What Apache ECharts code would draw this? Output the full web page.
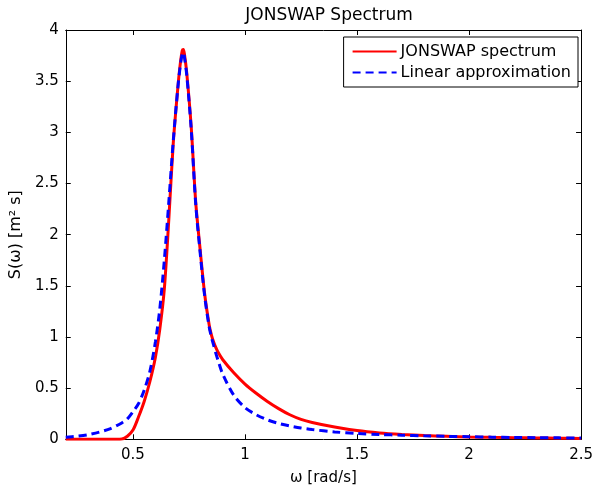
<!DOCTYPE html>
<html>
	<head>
		<meta charset="utf-8">
		<title>JONSWAP Spectrum</title>
		<script src="https://cdn.jsdelivr.net/npm/echarts@6/dist/echarts.min.js"></script>
		<style type="text/css">
			html, body {
				margin: 0;
				padding: 0;
				background: #fff;
			}
			#chart {
				width: 596px;
				height: 491px;
			}
		</style>
	</head>
	<body>
		<div id="chart"></div>
		<script type="text/javascript">
			// 频率 ω [rad/s]
			var omega = [0.2, 0.25, 0.3, 0.35, 0.4, 0.45, 0.475, 0.5, 0.525, 0.55, 0.575, 0.6, 0.62, 0.64,
				0.66, 0.68, 0.7, 0.71, 0.72, 0.725, 0.73, 0.74, 0.76, 0.78,
				0.8, 0.82, 0.84, 0.85, 0.86, 0.87, 0.88, 0.9, 0.95,
				1.0, 1.05, 1.1, 1.15, 1.2, 1.25, 1.3, 1.4, 1.5, 1.6, 1.7, 1.8, 1.9, 2.0, 2.1, 2.2, 2.3, 2.4, 2.5];
			// JONSWAP 谱
			var jonswap = [0, 0, 0, 0, 0, 0.003, 0.03, 0.09, 0.22, 0.37, 0.56, 0.8, 1.08, 1.47,
				2.15, 2.9, 3.43, 3.65, 3.8, 3.81, 3.76, 3.58, 3.05, 2.32,
				1.85, 1.42, 1.12, 1.02, 0.95, 0.895, 0.85, 0.78, 0.65,
				0.54, 0.45, 0.37, 0.3, 0.24, 0.195, 0.165, 0.12, 0.085, 0.062, 0.047, 0.036, 0.029, 0.023, 0.019, 0.016, 0.013, 0.011, 0.009];
			// 线性近似
			var linear = [0.02, 0.03, 0.045, 0.07, 0.105, 0.16, 0.2, 0.27, 0.35, 0.48, 0.66, 0.95, 1.28, 1.75,
				2.32, 2.92, 3.43, 3.63, 3.77, 3.78, 3.73, 3.56, 3.03, 2.3,
				1.82, 1.4, 1.1, 1.0, 0.92, 0.84, 0.77, 0.64, 0.43,
				0.31, 0.24, 0.19, 0.155, 0.13, 0.11, 0.095, 0.072, 0.057, 0.047, 0.04, 0.034, 0.029, 0.025, 0.021, 0.018, 0.016, 0.014, 0.012];
			// 刻度
			var xTicks = [0.5, 1, 1.5, 2, 2.5];
			var yTicks = [0, 0.5, 1, 1.5, 2, 2.5, 3, 3.5, 4];

			var pairs = function(ys) {
				return omega.map(function(x, i) { return [x, ys[i]]; });
			};

			var font = 'DejaVu Sans, Verdana, sans-serif';
			var axisCommon = {
				type: 'value',
				axisLine: { show: true, onZero: false, lineStyle: { color: '#000', width: 1 } },
				splitLine: { show: false }
			};

			var chart = echarts.init(document.getElementById('chart'));
			chart.setOption({
				animation: false,
				title: {
					text: 'JONSWAP Spectrum',
					left: 324, top: 2, textAlign: 'center',
					textStyle: { fontFamily: font, fontSize: 17, fontWeight: 'normal', color: '#000' }
				},
				legend: {
					orient: 'vertical',
					right: 18, top: 37,
					itemWidth: 44, itemHeight: 12, itemGap: 4,
					padding: [6, 7, 6, 8],
					borderColor: '#000', borderWidth: 1,
					backgroundColor: '#fff',
					itemStyle: { opacity: 0 },
					textStyle: { fontFamily: font, fontSize: 16, lineHeight: 17, color: '#000', padding: [0, 0, 0, -1] },
					data: ['JONSWAP spectrum', 'Linear approximation']
				},
				grid: { left: 64.5, right: 11.7, top: 30, bottom: 51.7 },
				xAxis: [
					Object.assign({}, axisCommon, {
						min: 0.2, max: 2.5,
						position: 'bottom',
						name: 'ω [rad/s]', nameLocation: 'middle', nameGap: 31,
						nameTextStyle: { fontFamily: font, fontSize: 15, color: '#000' },
						axisTick: { inside: true, length: 5, customValues: xTicks, lineStyle: { color: '#000' } },
						axisLabel: { margin: 8, customValues: xTicks, fontFamily: font, fontSize: 15, color: '#000' }
					}),
					Object.assign({}, axisCommon, {
						min: 0.2, max: 2.5,
						position: 'top',
						axisTick: { inside: true, length: 5, customValues: xTicks, lineStyle: { color: '#000' } },
						axisLabel: { show: false }
					})
				],
				yAxis: [
					Object.assign({}, axisCommon, {
						min: 0, max: 4,
						position: 'left',
						name: 'S(ω) [m² s]', nameLocation: 'middle', nameGap: 38, nameRotate: 90,
						nameTextStyle: { fontFamily: font, fontSize: 16, color: '#000' },
						axisTick: { inside: true, length: 5, customValues: yTicks, lineStyle: { color: '#000' } },
						axisLabel: { margin: 7, customValues: yTicks, fontFamily: font, fontSize: 15, color: '#000' }
					}),
					Object.assign({}, axisCommon, {
						min: 0, max: 4,
						position: 'right',
						axisTick: { inside: true, length: 5, customValues: yTicks, lineStyle: { color: '#000' } },
						axisLabel: { show: false }
					})
				],
				series: [{
					name: 'JONSWAP spectrum',
					type: 'line',
					smooth: 0.3,
					symbol: 'none',
					color: '#ff0000',
					lineStyle: { color: '#ff0000', width: 3 },
					data: pairs(jonswap)
				}, {
					name: 'Linear approximation',
					type: 'line',
					smooth: 0.3,
					symbol: 'none',
					color: '#0000ff',
					lineStyle: { color: '#0000ff', width: 3, type: [8, 5] },
					data: pairs(linear)
				}]
			});
		</script>
	</body>
</html>
